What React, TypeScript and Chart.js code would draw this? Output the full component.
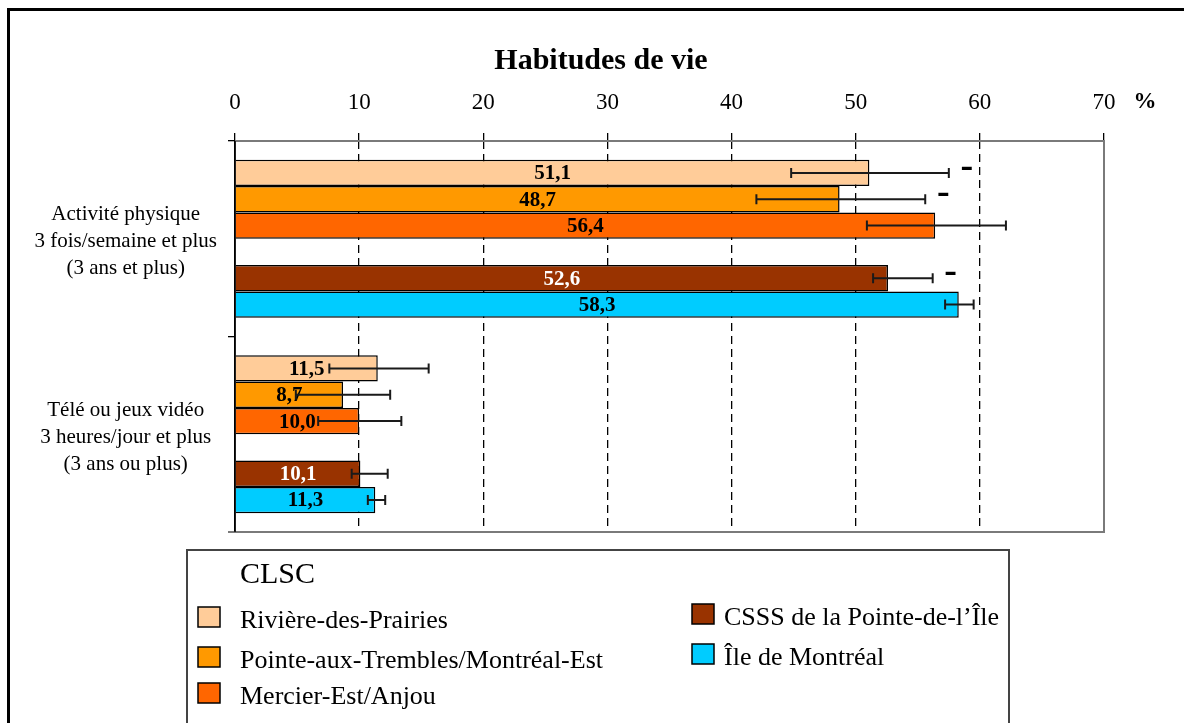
import React, { useEffect, useRef } from "react";
import { Chart, registerables } from "chart.js";

Chart.register(...registerables);

// ---------- data ----------
const chartTitle = "Habitudes de vie";
const unitLabel = "%";
const legendTitle = "CLSC";

const categories = [
  ["Activité physique", "3 fois/semaine et plus", "(3 ans et plus)"],
  ["Télé ou jeux vidéo", "3 heures/jour et plus", "(3 ans ou plus)"],
];

const xMin = 0;
const xMax = 70;
const xStep = 10;

const seriesNames = [
  "Rivière-des-Prairies",
  "Pointe-aux-Trembles/Montréal-Est",
  "Mercier-Est/Anjou",
  "CSSS de la Pointe-de-l’Île",
  "Île de Montréal",
];
const seriesColors = ["#FFCC99", "#FF9900", "#FF6600", "#993300", "#00CCFF"];
const valueLabelColors = ["#000000", "#000000", "#000000", "#FFFFFF", "#000000"];

const rdpValues = [51.1, 11.5];
const patValues = [48.7, 8.7];
const meaValues = [56.4, 10.0];
const csssValues = [52.6, 10.1];
const mtlValues = [58.3, 11.3];

const rdpLow = [44.8, 7.6];
const rdpHigh = [57.5, 15.6];
const patLow = [42.0, 4.9];
const patHigh = [55.6, 12.5];
const meaLow = [50.9, 6.7];
const meaHigh = [62.1, 13.4];
const csssLow = [51.4, 9.4];
const csssHigh = [56.2, 12.3];
const mtlLow = [57.2, 10.7];
const mtlHigh = [59.5, 12.1];

const rdpMarks = ["-", ""];
const patMarks = ["-", ""];
const meaMarks = ["", ""];
const csssMarks = ["-", ""];
const mtlMarks = ["", ""];

// ---------- styling ----------
const SERIF = '"Liberation Serif", "Times New Roman", serif';
const W = 1177;
const H = 715;

const seriesValues = [rdpValues, patValues, meaValues, csssValues, mtlValues];
const seriesLow = [rdpLow, patLow, meaLow, csssLow, mtlLow];
const seriesHigh = [rdpHigh, patHigh, meaHigh, csssHigh, mtlHigh];
const seriesMarks = [rdpMarks, patMarks, meaMarks, csssMarks, mtlMarks];

function makeDataset(i: number) {
  return {
    label: seriesNames[i],
    data: seriesValues[i],
    backgroundColor: seriesColors[i],
    borderColor: "#000000",
    borderWidth: 1.5,
    errLow: seriesLow[i],
    errHigh: seriesHigh[i],
    marks: seriesMarks[i],
    valueColor: valueLabelColors[i],
  } as any;
}

const spacer = {
  label: "",
  data: categories.map(() => null),
  backgroundColor: "rgba(0,0,0,0)",
  borderWidth: 0,
} as any;

const fmt = (v: number) => v.toFixed(1).replace(".", ",");

const annotationsPlugin = {
  id: "annotations",
  afterDatasetsDraw(chart: any) {
    const { ctx, chartArea } = chart;
    const xScale = chart.scales.x;
    // plot frame
    ctx.save();
    ctx.strokeStyle = "#7a7a7a";
    ctx.lineWidth = 2;
    ctx.beginPath();
    ctx.moveTo(chartArea.left, chartArea.top);
    ctx.lineTo(chartArea.right, chartArea.top);
    ctx.lineTo(chartArea.right, chartArea.bottom);
    ctx.lineTo(chartArea.left - 7, chartArea.bottom);
    ctx.stroke();
    ctx.strokeStyle = "#000";
    ctx.lineWidth = 1.5;
    ctx.beginPath();
    ctx.moveTo(chartArea.left, chartArea.top);
    ctx.lineTo(chartArea.left, chartArea.bottom);
    ctx.stroke();

    chart.data.datasets.forEach((ds: any, di: number) => {
      if (!ds.errLow) return;
      const meta = chart.getDatasetMeta(di);
      meta.data.forEach((bar: any, j: number) => {
        const { x, y, base } = bar.getProps(["x", "y", "base"], true);
        const v = ds.data[j];
        // value label
        ctx.font = `bold 21px ${SERIF}`;
        ctx.fillStyle = ds.valueColor;
        ctx.textAlign = "center";
        ctx.textBaseline = "middle";
        ctx.fillText(fmt(v), (x + base) / 2, y + 1);
        // error bar
        const xl = xScale.getPixelForValue(ds.errLow[j]);
        const xh = xScale.getPixelForValue(ds.errHigh[j]);
        ctx.strokeStyle = "#1a1a1a";
        ctx.lineWidth = 2;
        ctx.beginPath();
        ctx.moveTo(xl, y);
        ctx.lineTo(xh, y);
        ctx.moveTo(xl, y - 5);
        ctx.lineTo(xl, y + 5);
        ctx.moveTo(xh, y - 5);
        ctx.lineTo(xh, y + 5);
        ctx.stroke();
        // significance mark
        const m = ds.marks[j];
        if (m) {
          ctx.font = `bold 38px ${SERIF}`;
          ctx.fillStyle = "#000";
          ctx.textAlign = "center";
          ctx.textBaseline = "alphabetic";
          ctx.fillText(m, xh + 18, y - 4 + 8);
        }
      });
    });

    // unit label
    ctx.font = `bold 23px ${SERIF}`;
    ctx.fillStyle = "#000";
    ctx.textAlign = "center";
    ctx.textBaseline = "middle";
    ctx.fillText(unitLabel, chartArea.right + 41, 94);
    ctx.restore();
  },
  afterDraw(chart: any) {
    const { ctx } = chart;
    ctx.save();
    // outer frame
    ctx.fillStyle = "#000";
    ctx.fillRect(0, 0, 3, H);
    ctx.fillRect(0, 0, W, 3);

    // legend box
    ctx.strokeStyle = "#444";
    ctx.lineWidth = 2;
    ctx.strokeRect(180, 542, 822, 220);
    ctx.fillStyle = "#000";
    ctx.textAlign = "left";
    ctx.textBaseline = "middle";
    ctx.font = `30px ${SERIF}`;
    ctx.fillText(legendTitle, 233, 567);

    const col1 = { sx: 191, tx: 233, ys: [609, 649, 685] };
    const col2 = { sx: 685, tx: 717, ys: [606, 646] };
    const items = seriesNames.map((name, i) => {
      const col = i < 3 ? col1 : col2;
      const y = i < 3 ? col1.ys[i] : col2.ys[i - 3];
      return { name, color: seriesColors[i], col, y };
    });
    ctx.font = `26px ${SERIF}`;
    items.forEach((it) => {
      ctx.fillStyle = it.color;
      ctx.fillRect(it.col.sx, it.y - 10, 22, 20);
      ctx.strokeStyle = "#000";
      ctx.lineWidth = 1.5;
      ctx.strokeRect(it.col.sx, it.y - 10, 22, 20);
      ctx.fillStyle = "#000";
      ctx.fillText(it.name, it.col.tx, it.y + 4);
    });
    ctx.restore();
  },
};

export default function App() {
  const ref = useRef<HTMLCanvasElement>(null);

  useEffect(() => {
    document.documentElement.style.overflow = "hidden";
    document.body.style.overflow = "hidden";
    const canvas = ref.current;
    if (!canvas) return;
    const datasets = [
      makeDataset(0),
      makeDataset(1),
      makeDataset(2),
      spacer,
      makeDataset(3),
      makeDataset(4),
    ];
    const chart = new Chart(canvas, {
      type: "bar",
      data: { labels: categories as any, datasets },
      options: {
        indexAxis: "y",
        responsive: false,
        maintainAspectRatio: false,
        animation: false,
        devicePixelRatio: 1,
        layout: { padding: { left: 11, right: 0, top: 0, bottom: 191 } },
        datasets: {
          bar: { categoryPercentage: 0.808, barPercentage: 1 },
        },
        plugins: {
          legend: { display: false },
          tooltip: { enabled: false },
          title: {
            display: true,
            text: chartTitle,
            color: "#000",
            font: { family: SERIF, size: 30, weight: "bold", lineHeight: 1.2 },
            padding: { top: 35, bottom: 0 },
          },
        },
        scales: {
          x: {
            position: "top",
            min: xMin,
            max: xMax,
            afterFit: (s: any) => {
              s.height = 62;
            },
            ticks: {
              stepSize: xStep,
              color: "#000",
              padding: 16,
              font: { family: SERIF, size: 23 },
            },
            grid: {
              color: (c: any) =>
                c.tick && (c.tick.value === xMin || c.tick.value === xMax)
                  ? "rgba(0,0,0,0)"
                  : "#000",
              lineWidth: 1.3,
              tickColor: "#000",
              tickLength: 8,
              tickWidth: 1.3,
              tickBorderDash: [],
            },
            border: { display: false, dash: [8, 5] },
          },
          y: {
            afterFit: (s: any) => {
              s.width = 217;
            },
            ticks: {
              color: "#000",
              crossAlign: "center",
              padding: 11,
              labelOffset: 3,
              font: { family: SERIF, size: 21, lineHeight: 27 / 21 },
            },
            grid: {
              drawOnChartArea: false,
              color: "#000",
              tickColor: "#000",
              tickLength: 7,
              lineWidth: 1.3,
              offset: true,
            },
            border: { display: true, color: "#000", width: 1.5 },
          },
          yRight: {
            type: "linear",
            axis: "y",
            position: "right",
            display: true,
            afterFit: (s: any) => {
              s.width = 80;
            },
            ticks: { display: false },
            grid: { display: false, drawTicks: false },
            border: { display: false },
          },
        },
      },
      plugins: [annotationsPlugin],
    } as any);
    return () => chart.destroy();
  }, []);

  return (
    <div style={{ position: "absolute", left: 7, top: 8, width: W, height: H }}>
      <canvas ref={ref} width={W} height={H} style={{ display: "block", width: W, height: H }} />
    </div>
  );
}
